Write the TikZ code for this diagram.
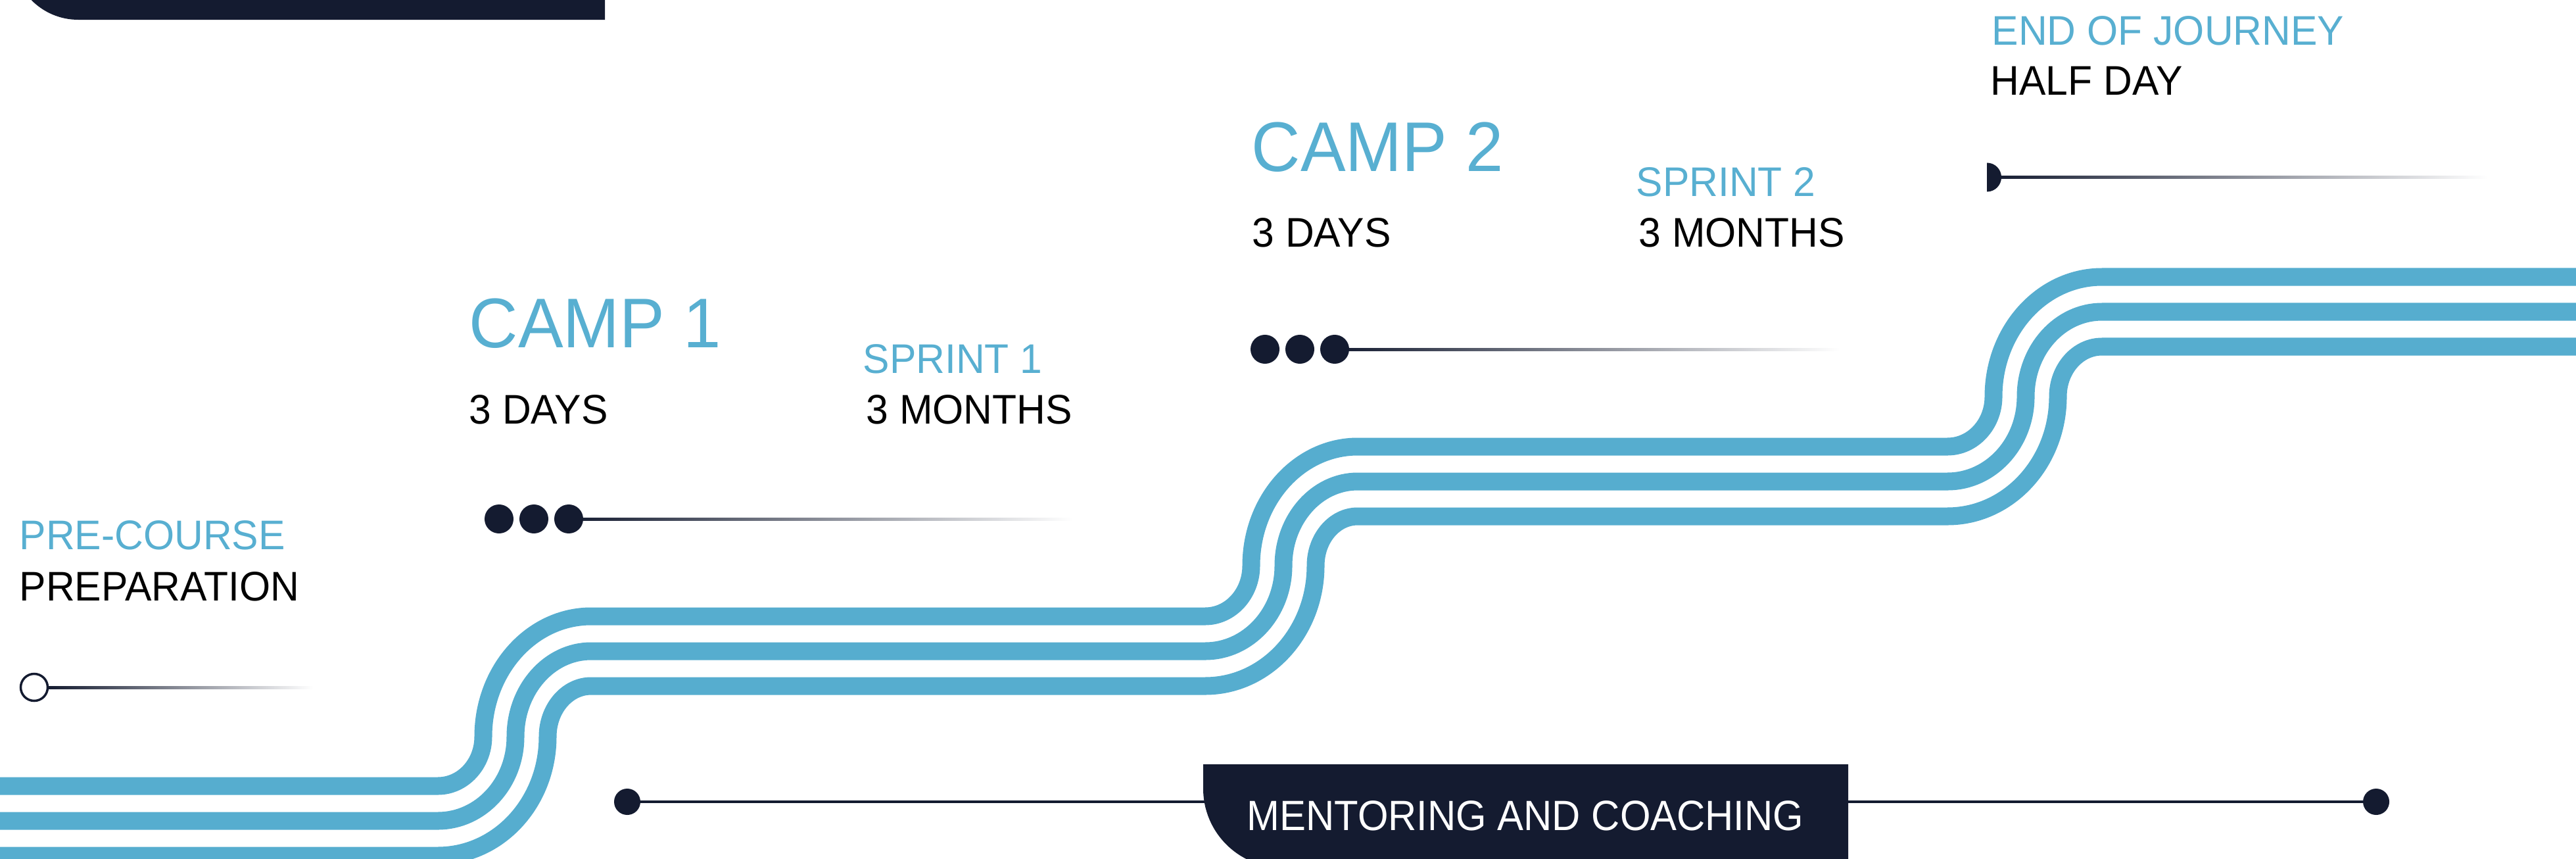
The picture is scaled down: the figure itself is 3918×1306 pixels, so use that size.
\documentclass[tikz,border=0pt]{standalone}
\usepackage{fontspec}
\setmainfont{Liberation Sans}[FakeStretch=0.963]
\newfontfamily\mentorfont{Liberation Sans}[FakeStretch=0.93]
\definecolor{navy}{HTML}{141B30}
\definecolor{roadblue}{HTML}{56ADCF}
\definecolor{labelblue}{HTML}{58AFD1}
\begin{document}
\begin{tikzpicture}[x=0.01cm,y=-0.01cm,
  road/.style={draw=roadblue,line width=0.27cm},
  sbend/.style n args={6}{insert path={-- (#1,#2)
     .. controls ({#1+0.5523*(#3-#1)},#2) and (#3,{#4+0.5523*(#2-#4)}) .. (#3,#4)
     .. controls (#3,{#4-0.5523*(#4-#5)}) and ({#6-0.5523*(#6-#3)},#5) .. (#6,#5)}},
  smalltxt/.style={font=\fontsize{17.9}{20}\selectfont,inner sep=0pt,anchor=base west},
  bigtxt/.style={font=\fontsize{30.4}{34}\selectfont,inner sep=0pt,anchor=base west,text=labelblue},
  fade/.style={left color=navy,right color=white,draw=none},
  dot/.style={fill=navy}]
\useasboundingbox (0,0) rectangle (3918,1306);
\clip (0,0) rectangle (3918,1306);

% top-left dark tab
\fill[navy] (920,-200) -- (19,-200) -- (19,-70)
  .. controls (19,-14.8) and (63.8,30) .. (119,30) -- (920,30) -- cycle;

% road: three parallel stripes
\foreach \i in {0,1,2}{
  \pgfmathsetmacro\la{1195+53*\i}
  \pgfmathsetmacro\lb{937+53*\i}
  \pgfmathsetmacro\lc{679+53*\i}
  \pgfmathsetmacro\ld{421+53*\i}
  \pgfmathsetmacro\va{735+49*\i}
  \pgfmathsetmacro\vb{1903+49*\i}
  \pgfmathsetmacro\vc{3032+49*\i}
  \draw[road] (-30,\la) [sbend={666}{\la}{\va}{1120}{\lb}{899}]
     [sbend={1833}{\lb}{\vb}{860}{\lc}{2065}]
     [sbend={2962}{\lc}{\vc}{603}{\ld}{3197}] -- (3960,\ld);
}

% pre-course marker
\shade[fade] (73,1043) rectangle (476,1047);
\draw[navy,line width=0.035cm,fill=white] (52,1045) circle[radius=0.205cm];

% camp 1 marker
\shade[fade] (865,787) rectangle (1631,791);
\fill[dot] (759,789) circle[radius=0.22cm];
\fill[dot] (812,789) circle[radius=0.22cm];
\fill[dot] (865,789) circle[radius=0.22cm];

% camp 2 marker
\shade[fade] (2030,529) rectangle (2798,533);
\fill[dot] (1924,531) circle[radius=0.22cm];
\fill[dot] (1977,531) circle[radius=0.22cm];
\fill[dot] (2030,531) circle[radius=0.22cm];

% end of journey marker
\shade[fade] (3030,267) rectangle (3784,271);
\begin{scope}
  \clip (3022,240) rectangle (3060,300);
  \fill[dot] (3022,269.5) circle[radius=0.22cm];
\end{scope}

% mentoring line and box
\draw[navy,line width=0.04cm] (954,1219) -- (3614,1219);
\fill[dot] (954,1219) circle[radius=0.2cm];
\fill[dot] (3614,1219) circle[radius=0.2cm];
\fill[navy] (1830,1162) -- (1830,1199)
  .. controls (1830,1265.3) and (1883.7,1319) .. (1950,1319)
  -- (2811,1319) -- (2811,1162) -- cycle;
\node[font=\mentorfont\fontsize{18.3}{20}\selectfont,inner sep=0pt,anchor=base,text=white]
  (mentor) at (2320,1262) {MENTORING AND COACHING};

% labels
\node[smalltxt,text=labelblue] (pre) at (29,835) {PRE-COURSE};
\node[smalltxt] (prep) at (29,913) {PREPARATION};

\node[bigtxt] (camp1) at (713,528) {CAMP 1};
\node[smalltxt] (days1) at (713,644) {3 DAYS};
\node[smalltxt,text=labelblue] (sprint1) at (1312,567) {SPRINT 1};
\node[smalltxt] (months1) at (1317,644) {3 MONTHS};

\node[bigtxt] (camp2) at (1903,260) {CAMP 2};
\node[smalltxt] (days2) at (1904,375) {3 DAYS};
\node[smalltxt,text=labelblue] (sprint2) at (2488,298) {SPRINT 2};
\node[smalltxt] (months2) at (2492,375) {3 MONTHS};

\node[smalltxt,text=labelblue] (end) at (3029,68) {END OF JOURNEY};
\node[smalltxt] (half) at (3027,144) {HALF DAY};
\end{tikzpicture}
\end{document}
